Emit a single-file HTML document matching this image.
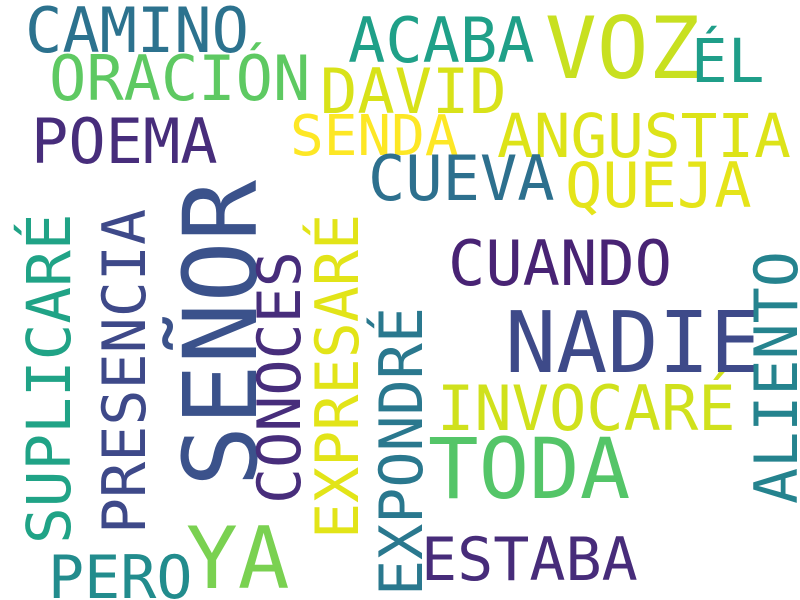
<!DOCTYPE html>
<html><head><meta charset="utf-8"><style>
html,body{margin:0;padding:0;background:#fff;}
svg{display:block;}
text{font-family:"DejaVu Sans Mono","Liberation Mono",monospace;}
</style></head><body>
<svg id="cloud" width="800" height="600" viewBox="0 0 800 600" xmlns="http://www.w3.org/2000/svg">
<rect width="800" height="600" fill="#ffffff"/>
</svg>
<script>
const words = ["CAMINO","ORACIÓN","POEMA","ACABA","VOZ","ÉL","DAVID","SENDA","ANGUSTIA","CUEVA","QUEJA","CUANDO","NADIE","INVOCARÉ","TODA","ESTABA","YA","PERO","SEÑOR","SUPLICARÉ","PRESENCIA","CONOCES","EXPRESARÉ","EXPONDRÉ","ALIENTO"];
const sizes = [62,62,62,62,86,61,62,56,61,62,62,62,85,62,84,60,86,60,102,61,60,60,60,60,60];
const colors = ["#2c728e","#5ec962","#472d7b","#1fa088","#c8e020","#1f9e89","#d8e219","#fde725","#dde318","#2d708e","#e5e419","#482374","#3e4a89","#d0e11c","#54c568","#472c7a","#7ad151","#228c8d","#3b528b","#20a386","#3e4989","#472d7b","#e2e418","#2a788e","#25838e"];
// layout: [x, baseline y, rotated]
const layout = [[25,52,0],[49,100,0],[31,163,0],[348,62,0],[545,78,0],[691,82,0],[320,113,0],[290,155,0],[497,157,0],[368,200,0],[565,207,0],[448,285,0],[505,372,0],[437,430,0],[428,498,0],[421,580,0],[186,588,0],[48,598,0],[256,487,1],[70,544,1],[145,534,1],[300,504,1],[358,539,1],[422,596,1],[797,504,1]];
const svg = document.getElementById('cloud');
words.forEach((w,i)=>{
  const t = document.createElementNS('http://www.w3.org/2000/svg','text');
  const [x,y,r] = layout[i];
  t.setAttribute('x', 0);
  t.setAttribute('y', 0);
  t.setAttribute('transform', r ? `translate(${x},${y}) rotate(-90)` : `translate(${x},${y})`);
  t.setAttribute('font-size', sizes[i]);
  t.setAttribute('fill', colors[i]);
  
  
  t.textContent = w;
  svg.appendChild(t);
});
</script>
</body></html>
